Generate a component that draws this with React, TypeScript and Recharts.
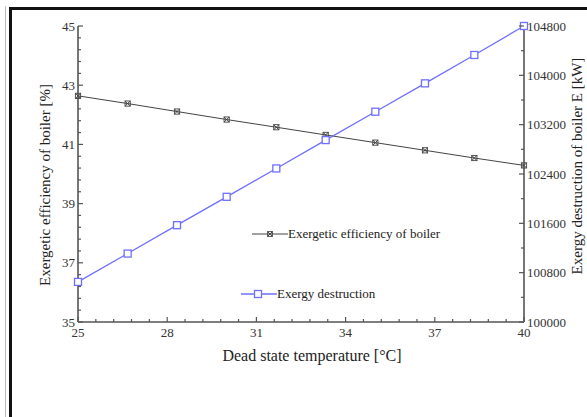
import React from "react";
import { LineChart, Line, XAxis, YAxis, Legend } from "recharts";

// values
const temperature = [25, 26.67, 28.33, 30, 31.67, 33.33, 35, 36.67, 38.33, 40];
const efficiency = [42.64, 42.38, 42.11, 41.84, 41.58, 41.32, 41.06, 40.8, 40.54, 40.29];
const destruction = [100650, 101110, 101570, 102030, 102490, 102950, 103410, 103870, 104330, 104800];

const xMajor = [25, 28, 31, 34, 37, 40];
const xMinor = [25.6, 26.2, 26.8, 27.4, 28.6, 29.2, 29.8, 30.4, 31.6, 32.2, 32.8, 33.4, 34.6, 35.2, 35.8, 36.4, 37.6, 38.2, 38.8, 39.4];
const leftMajor = [35, 37, 39, 41, 43, 45];
const leftMinor = [35.4, 35.8, 36.2, 36.6, 37.4, 37.8, 38.2, 38.6, 39.4, 39.8, 40.2, 40.6, 41.4, 41.8, 42.2, 42.6, 43.4, 43.8, 44.2, 44.6];
const rightMajor = [100000, 100800, 101600, 102400, 103200, 104000, 104800];
const rightMinor = [100400, 101200, 102000, 102800, 103600, 104400];

const data = temperature.map((t, i) => ({ t, eff: efficiency[i], ed: destruction[i] }));

const byValue = (a: number, b: number) => a - b;
const xTicks = [...xMajor, ...xMinor].sort(byValue);
const leftTicks = [...leftMajor, ...leftMinor].sort(byValue);
const rightTicks = [...rightMajor, ...rightMinor].sort(byValue);

const FONT = '"Liberation Serif", "Times New Roman", serif';
const AXIS = "#555";
const BLACK_SERIES = "#444";
const BLUE = "#6f6fff";

function BottomTick({ x, y, payload }: any) {
  const major = xMajor.includes(payload.value);
  return (
    <g>
      <line x1={x} x2={x} y1={y} y2={y - (major ? 5 : 3)} stroke={AXIS} strokeWidth={1.2} />
      {major && (
        <text x={x} y={y + 15} textAnchor="middle" fontSize={13} fill="#333" fontFamily={FONT}>
          {payload.value}
        </text>
      )}
    </g>
  );
}

function TopTick({ x, y, payload }: any) {
  const major = xMajor.includes(payload.value);
  return <line x1={x} x2={x} y1={y} y2={y + (major ? 5 : 3)} stroke={AXIS} strokeWidth={1.2} />;
}

function LeftTick({ x, y, payload }: any) {
  const major = leftMajor.includes(payload.value);
  return (
    <g>
      <line x1={x} x2={x + (major ? 5 : 3)} y1={y} y2={y} stroke={AXIS} strokeWidth={1.2} />
      {major && (
        <text x={x - 3} y={y + 4.5} textAnchor="end" fontSize={13} fill="#333" fontFamily={FONT}>
          {payload.value}
        </text>
      )}
    </g>
  );
}

function RightTick({ x, y, payload }: any) {
  const major = rightMajor.includes(payload.value);
  return (
    <g>
      <line x1={x} x2={x - (major ? 5 : 3)} y1={y} y2={y} stroke={AXIS} strokeWidth={1.2} />
      {major && (
        <text x={x + 3} y={y + 4.5} textAnchor="start" fontSize={13} fill="#333" fontFamily={FONT}>
          {payload.value}
        </text>
      )}
    </g>
  );
}

function CrossMark({ cx, cy, size = 2.6 }: any) {
  return (
    <g>
      <rect x={cx - size} y={cy - size} width={size * 2} height={size * 2} fill="none" stroke={BLACK_SERIES} strokeWidth={0.9} />
      <line x1={cx - size} y1={cy - size} x2={cx + size} y2={cy + size} stroke={BLACK_SERIES} strokeWidth={1} />
      <line x1={cx - size} y1={cy + size} x2={cx + size} y2={cy - size} stroke={BLACK_SERIES} strokeWidth={1} />
    </g>
  );
}

function SquareMark({ cx, cy, size = 3.5 }: any) {
  return <rect x={cx - size} y={cy - size} width={size * 2} height={size * 2} fill="#fff" stroke={BLUE} strokeWidth={1.3} />;
}

function renderLegend() {
  const row: React.CSSProperties = {
    position: "absolute",
    display: "flex",
    alignItems: "center",
    height: 16,
    fontFamily: FONT,
    fontSize: 13,
    color: "#222",
    whiteSpace: "nowrap",
  };
  return (
    <div style={{ position: "relative", width: 230, height: 90 }}>
      <div style={{ ...row, left: 12, top: 6 }}>
        <svg width={36} height={16}>
          <line x1={0} x2={36} y1={8} y2={8} stroke={BLACK_SERIES} strokeWidth={1} />
          <CrossMark cx={18} cy={8} size={2.4} />
        </svg>
        <span>Exergetic efficiency of boiler</span>
      </div>
      <div style={{ ...row, left: 1, top: 66 }}>
        <svg width={36} height={16}>
          <line x1={0} x2={36} y1={8} y2={8} stroke={BLUE} strokeWidth={1.3} />
          <SquareMark cx={17} cy={8} size={3.5} />
        </svg>
        <span>Exergy destruction</span>
      </div>
    </div>
  );
}

export default function App() {
  return (
    <div style={{ position: "absolute", left: 0, top: 0, width: 587, height: 417, background: "#fff", overflow: "hidden" }}>
      <div style={{ position: "absolute", left: 5, top: 6, width: 700, height: 500, borderLeft: "1px solid #bbb" }} />
      <div style={{ position: "absolute", left: 9, top: 7, width: 700, height: 500, borderLeft: "3px solid #111", borderTop: "3px solid #111" }} />
      <div style={{ position: "absolute", left: 0, top: 0 }}>
        <LineChart width={587} height={417} data={data} margin={{ top: 26, right: 23, bottom: 65, left: 38 }}>
          <XAxis
            dataKey="t"
            type="number"
            domain={[25, 40]}
            ticks={xTicks}
            interval={0}
            height={30}
            tickSize={0}
            tickMargin={0}
            tickLine={false}
            axisLine={{ stroke: AXIS, strokeWidth: 1.6 }}
            tick={(p: any) => <BottomTick {...p} />}
            label={(p: any) => (
              <text x={312} y={361} textAnchor="middle" fontSize={16} fill="#222" fontFamily={FONT}>
                Dead state temperature [°C]
              </text>
            )}
          />
          <XAxis
            xAxisId="top"
            orientation="top"
            dataKey="t"
            type="number"
            domain={[25, 40]}
            ticks={xTicks}
            interval={0}
            height={0}
            tickSize={0}
            tickMargin={0}
            tickLine={false}
            axisLine={{ stroke: AXIS, strokeWidth: 1.6 }}
            tick={(p: any) => <TopTick {...p} />}
          />
          <YAxis
            yAxisId="left"
            type="number"
            domain={[35, 45]}
            ticks={leftTicks}
            interval={0}
            width={40}
            tickSize={0}
            tickMargin={0}
            tickLine={false}
            axisLine={{ stroke: AXIS, strokeWidth: 1.6 }}
            tick={(p: any) => <LeftTick {...p} />}
            label={(p: any) => (
              <text x={45} y={185} transform="rotate(-90, 45, 185)" textAnchor="middle" dominantBaseline="central" fontSize={15} fill="#222" fontFamily={FONT}>
                Exergetic efficiency of boiler [%]
              </text>
            )}
          />
          <YAxis
            yAxisId="right"
            orientation="right"
            type="number"
            domain={[100000, 104800]}
            ticks={rightTicks}
            interval={0}
            width={40}
            tickSize={0}
            tickMargin={0}
            tickLine={false}
            axisLine={{ stroke: AXIS, strokeWidth: 1.6 }}
            tick={(p: any) => <RightTick {...p} />}
            label={(p: any) => (
              <text x={577} y={166} transform="rotate(-90, 577, 166)" textAnchor="middle" dominantBaseline="central" fontSize={15} fill="#222" fontFamily={FONT}>
                Exergy destruction of boiler E [kW]
              </text>
            )}
          />
          <Legend
            layout="vertical"
            align="center"
            verticalAlign="middle"
            wrapperStyle={{ left: 240, top: 220, width: 230, height: 90 }}
            content={renderLegend}
          />
          <Line
            yAxisId="left"
            dataKey="eff"
            name="Exergetic efficiency of boiler"
            type="linear"
            stroke={BLACK_SERIES}
            strokeWidth={1}
            dot={(p: any) => <CrossMark key={p.index} cx={p.cx} cy={p.cy} />}
            activeDot={false}
            isAnimationActive={false}
          />
          <Line
            yAxisId="right"
            dataKey="ed"
            name="Exergy destruction"
            type="linear"
            stroke={BLUE}
            strokeWidth={1.3}
            dot={(p: any) => <SquareMark key={p.index} cx={p.cx} cy={p.cy} />}
            activeDot={false}
            isAnimationActive={false}
          />
        </LineChart>
      </div>
    </div>
  );
}
